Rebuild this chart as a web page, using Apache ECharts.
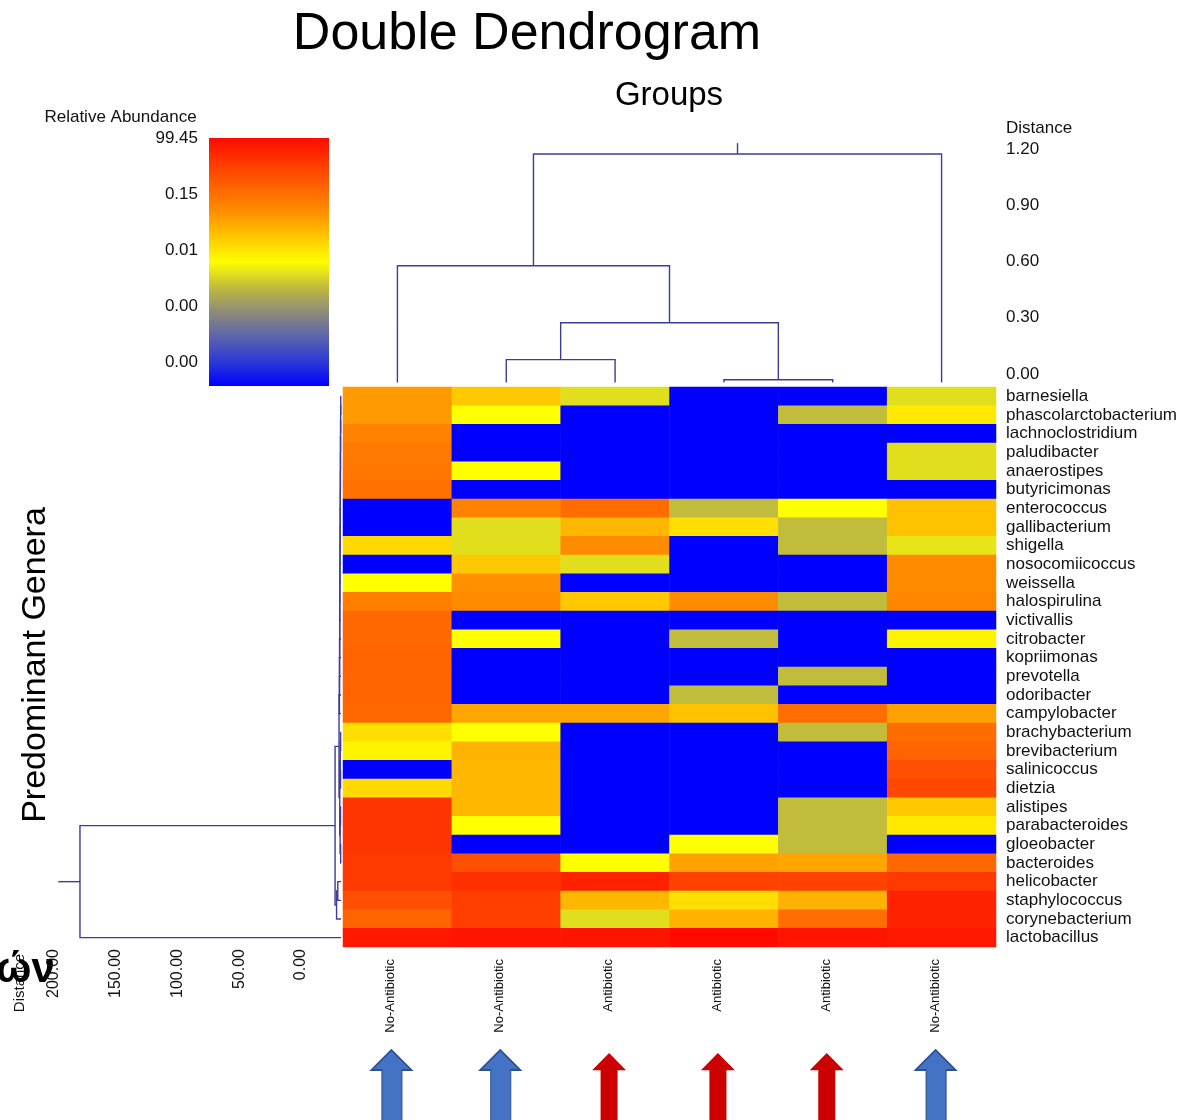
<!DOCTYPE html>
<html>
<head>
<meta charset="utf-8">
<title>Double Dendrogram</title>
<script src="https://cdn.jsdelivr.net/npm/echarts@6/dist/echarts.min.js"></script>
<style>
  html, body { margin: 0; padding: 0; background: #ffffff; }
  #chart { width: 1181px; height: 1120px; }
</style>
</head>
<body>
<div id="chart"></div>
<script>
// Genera (rows, top to bottom in dendrogram order)
const genera = [
  'barnesiella', 'phascolarctobacterium', 'lachnoclostridium', 'paludibacter',
  'anaerostipes', 'butyricimonas', 'enterococcus', 'gallibacterium', 'shigella',
  'nosocomiicoccus', 'weissella', 'halospirulina', 'victivallis', 'citrobacter',
  'kopriimonas', 'prevotella', 'odoribacter', 'campylobacter', 'brachybacterium',
  'brevibacterium', 'salinicoccus', 'dietzia', 'alistipes', 'parabacteroides',
  'gloeobacter', 'bacteroides', 'helicobacter', 'staphylococcus',
  'corynebacterium', 'lactobacillus'
];

// Samples (columns, left to right in dendrogram order)
const sampleGroups = [
  'No-Antibiotic', 'No-Antibiotic', 'Antibiotic', 'Antibiotic', 'Antibiotic', 'No-Antibiotic'
];

// Relative abundance as a position on the colour scale (0 = bottom, 1 = top of the legend)
const abundanceLevel = [
  [0.68, 0.60, 0.45, 0.00, 0.00, 0.45],
  [0.68, 0.50, 0.00, 0.00, 0.40, 0.54],
  [0.73, 0.00, 0.00, 0.00, 0.00, 0.00],
  [0.75, 0.00, 0.00, 0.00, 0.00, 0.45],
  [0.76, 0.50, 0.00, 0.00, 0.00, 0.45],
  [0.77, 0.00, 0.00, 0.00, 0.00, 0.00],
  [0.00, 0.73, 0.78, 0.40, 0.50, 0.61],
  [0.00, 0.45, 0.63, 0.56, 0.40, 0.61],
  [0.57, 0.45, 0.71, 0.00, 0.40, 0.46],
  [0.00, 0.60, 0.45, 0.00, 0.00, 0.71],
  [0.50, 0.70, 0.00, 0.00, 0.00, 0.71],
  [0.74, 0.71, 0.60, 0.71, 0.40, 0.72],
  [0.79, 0.00, 0.00, 0.00, 0.00, 0.00],
  [0.79, 0.50, 0.00, 0.40, 0.00, 0.52],
  [0.80, 0.00, 0.00, 0.00, 0.00, 0.00],
  [0.80, 0.00, 0.00, 0.00, 0.40, 0.00],
  [0.80, 0.00, 0.00, 0.40, 0.00, 0.00],
  [0.79, 0.66, 0.66, 0.61, 0.78, 0.67],
  [0.56, 0.50, 0.00, 0.00, 0.40, 0.78],
  [0.52, 0.64, 0.00, 0.00, 0.00, 0.80],
  [0.00, 0.63, 0.00, 0.00, 0.00, 0.85],
  [0.57, 0.63, 0.00, 0.00, 0.00, 0.87],
  [0.91, 0.63, 0.00, 0.00, 0.40, 0.60],
  [0.91, 0.50, 0.00, 0.00, 0.40, 0.54],
  [0.91, 0.00, 0.00, 0.50, 0.40, 0.00],
  [0.90, 0.85, 0.50, 0.67, 0.66, 0.79],
  [0.90, 0.92, 0.95, 0.88, 0.88, 0.90],
  [0.85, 0.89, 0.63, 0.56, 0.64, 0.95],
  [0.80, 0.89, 0.45, 0.64, 0.78, 0.95],
  [0.97, 0.98, 0.98, 1.00, 0.98, 0.97]
];

// Legend tick labels (top to bottom) and the legend's extent in tick steps
const levelTickLabels = ['99.45', '0.15', '0.01', '0.00', '0.00'];
const legendSpan = 4.43;

// Colour ramp, evenly spaced from level 0 to level 1
const levelPalette = [
  '#0000ff', '#2d3ad6', '#5c64ac', '#8e8c78', '#c2bc3c',
  '#ffff00', '#ffc800', '#ff9000', '#ff6400', '#ff3a00', '#ff0a00'
];

// Sample clustering: [left, right, distance]; leaves 0..5, merges numbered from 6
const groupLinkage = [
  [3, 4, 0.015],
  [1, 2, 0.122],
  [7, 6, 0.319],
  [0, 8, 0.623],
  [9, 5, 1.219]
];
const groupRootTop = 1.277;

// Genus clustering: [left, right, distance]; leaves 0..29, merges numbered from 30
const genusLinkage = [
  [0, 1, 0.20], [30, 2, 0.28], [31, 3, 0.35], [32, 4, 0.42], [33, 5, 0.48],
  [34, 6, 0.55], [35, 7, 0.62], [36, 8, 0.68], [37, 9, 0.75], [38, 10, 0.82],
  [39, 11, 0.88], [40, 12, 0.95], [41, 13, 1.02], [42, 14, 1.08], [43, 15, 1.15],
  [44, 16, 1.22], [45, 17, 1.28],
  [18, 19, 0.30], [20, 21, 0.35], [22, 23, 0.40], [24, 25, 0.30],
  [47, 48, 0.60], [49, 50, 0.70], [51, 52, 1.00],
  [46, 53, 1.60],
  [26, 27, 2.60], [55, 28, 3.60],
  [54, 56, 4.80],
  [57, 29, 211.4]
];
const genusRootTop = 229;

const FONT = '"Liberation Sans", Arial, Helvetica, sans-serif';
const TEXT = '#111111';
const TREE = '#3c3c9a';

// Turn a linkage table into bracket polylines as [leafPosition, distance] points
function dendrogram(linkage, leafCount, rootTop) {
  const pos = [], h = [];
  for (let i = 0; i < leafCount; i++) { pos[i] = i; h[i] = 0; }
  const paths = [];
  linkage.forEach(([a, b, d], k) => {
    const id = leafCount + k;
    pos[id] = (pos[a] + pos[b]) / 2;
    h[id] = d;
    paths.push([[pos[a], h[a]], [pos[a], d], [pos[b], d], [pos[b], h[b]]]);
  });
  const root = leafCount + linkage.length - 1;
  paths.push([[pos[root], h[root]], [pos[root], rootTop]]);
  return paths;
}

const groupPaths = dendrogram(groupLinkage, sampleGroups.length, groupRootTop);
const genusPaths = dendrogram(genusLinkage, genera.length, genusRootTop)
  .map(p => p.map(([leaf, dist]) => [dist, leaf]));

const heatData = [];
abundanceLevel.forEach((row, r) => row.forEach((v, c) => heatData.push([c, r, v])));

const legendGradient = new echarts.graphic.LinearGradient(0, 0, 0, 1,
  levelPalette.map((col, k) => ({ offset: 1 - k / (levelPalette.length - 1), color: col })).reverse());

const ARROW_BLUE = 'path://M20,0 L40,20 L30.5,20 L30.5,80 L10.5,80 L10.5,20 L0,20 Z';
const ARROW_RED = 'path://M17,0 L34,18 L25.5,18 L25.5,80 L8.5,80 L8.5,18 L0,18 Z';
const arrowData = sampleGroups.map((g, i) => {
  const treated = g === 'Antibiotic';
  return {
    value: [i, 0.5],
    symbol: treated ? ARROW_RED : ARROW_BLUE,
    symbolSize: treated ? [34, 77] : [40, 80],
    symbolOffset: [-6, treated ? 1.5 : 0],
    itemStyle: treated
      ? { color: '#cc0000', borderWidth: 0, opacity: 1 }
      : { color: '#4472c4', borderColor: '#2f528f', borderWidth: 1.5, opacity: 1 }
  };
});

const chart = echarts.init(document.getElementById('chart'), null, { renderer: 'canvas' });

const hidden = { show: false };
const noLine = { axisLine: hidden, axisTick: hidden, splitLine: hidden };

chart.setOption({
  animation: false,
  backgroundColor: '#ffffff',
  textStyle: { fontFamily: FONT, color: TEXT },
  grid: [
    { left: 343, top: 387, width: 653, height: 560, outerBoundsMode: 'none' },   // heatmap
    { left: 343, top: 157.5, width: 653, height: 225, outerBoundsMode: 'none' }, // sample tree
    { left: 57, top: 387, width: 284, height: 560, outerBoundsMode: 'none' },    // genus tree
    { left: 209, top: 138, width: 120, height: 248, outerBoundsMode: 'none' },   // legend
    { left: 343, top: 1050, width: 653, height: 80, outerBoundsMode: 'none' }    // group arrows
  ],
  xAxis: [
    {
      gridIndex: 0, type: 'category', data: sampleGroups.map((_, i) => i),
      ...noLine,
      axisLabel: {
        interval: 0, rotate: 90, verticalAlign: 'bottom', margin: 12, fontSize: 13, color: TEXT,
        fontFamily: FONT, formatter: (v, i) => sampleGroups[i]
      }
    },
    { gridIndex: 1, type: 'value', min: -0.5, max: 5.5, show: false },
    {
      gridIndex: 2, type: 'value', inverse: true, min: 0, max: 230, interval: 50,
      ...noLine,
      axisLabel: {
        rotate: 90, verticalAlign: 'bottom', padding: [0, 0, 32, 0], margin: 2,
        fontSize: 16, color: TEXT, fontFamily: FONT, showMaxLabel: false,
        formatter: v => v.toFixed(2)
      }
    },
    { gridIndex: 3, type: 'category', data: ['scale'], show: false },
    { gridIndex: 4, type: 'value', min: -0.5, max: 5.5, show: false }
  ],
  yAxis: [
    {
      gridIndex: 0, type: 'category', data: genera, inverse: true, position: 'right',
      ...noLine,
      axisLabel: { interval: 0, margin: 10, padding: [0, 0, 4, 0], fontSize: 17, color: TEXT, fontFamily: FONT }
    },
    {
      gridIndex: 1, type: 'value', min: 0, max: 1.2, interval: 0.3, position: 'right',
      ...noLine,
      axisLabel: {
        margin: 10, verticalAlign: 'bottom', fontSize: 17, color: TEXT, fontFamily: FONT,
        formatter: v => v.toFixed(2)
      }
    },
    { gridIndex: 2, type: 'value', min: -0.5, max: 29.5, inverse: true, show: false },
    {
      gridIndex: 3, type: 'value', min: 0, max: legendSpan, interval: 1, inverse: true,
      ...noLine,
      axisLabel: {
        margin: 11, fontSize: 17, color: TEXT, fontFamily: FONT, showMaxLabel: false,
        formatter: v => levelTickLabels[Math.round(v)] ?? ''
      }
    },
    { gridIndex: 4, type: 'value', min: 0, max: 1, show: false }
  ],
  visualMap: {
    type: 'continuous', min: 0, max: 1, show: false, seriesIndex: 0, dimension: 2,
    inRange: { color: levelPalette }
  },
  series: [
    {
      type: 'heatmap', xAxisIndex: 0, yAxisIndex: 0, data: heatData,
      itemStyle: { borderWidth: 0 }, emphasis: { disabled: true }, silent: true
    },
    {
      type: 'lines', coordinateSystem: 'cartesian2d', xAxisIndex: 1, yAxisIndex: 1,
      polyline: true, clip: false, silent: true,
      lineStyle: { color: TREE, width: 1.4, opacity: 1 },
      data: groupPaths.map(coords => ({ coords }))
    },
    {
      type: 'lines', coordinateSystem: 'cartesian2d', xAxisIndex: 2, yAxisIndex: 2,
      polyline: true, clip: false, silent: true,
      lineStyle: { color: TREE, width: 1.4, opacity: 1 },
      data: genusPaths.map(coords => ({ coords }))
    },
    {
      type: 'bar', xAxisIndex: 3, yAxisIndex: 3, data: [legendSpan], barWidth: '100%',
      itemStyle: { color: legendGradient }, silent: true, emphasis: { disabled: true }
    },
    {
      type: 'scatter', xAxisIndex: 4, yAxisIndex: 4, data: arrowData, silent: true,
      itemStyle: { opacity: 1 }, emphasis: { disabled: true }
    }
  ],
  graphic: [
    { type: 'text', x: 527, y: 35, silent: true,
      style: { text: 'Double Dendrogram', font: '52px ' + FONT, fill: '#000', align: 'center', verticalAlign: 'middle' } },
    { type: 'text', x: 669, y: 96, silent: true,
      style: { text: 'Groups', font: '33px ' + FONT, fill: '#000', align: 'center', verticalAlign: 'middle' } },
    { type: 'text', x: 120.5, y: 117, silent: true,
      style: { text: 'Relative Abundance', font: '17px ' + FONT, fill: TEXT, align: 'center', verticalAlign: 'middle' } },
    { type: 'text', x: 1006, y: 128, silent: true,
      style: { text: 'Distance', font: '17px ' + FONT, fill: TEXT, align: 'left', verticalAlign: 'middle' } },
    { type: 'text', x: 36, y: 665, rotation: Math.PI / 2, silent: true,
      style: { text: 'Predominant Genera', font: '34px ' + FONT, fill: '#000', align: 'center', verticalAlign: 'middle' } },
    { type: 'text', x: 20, y: 983, rotation: Math.PI / 2, silent: true,
      style: { text: 'Distance', font: '15px ' + FONT, fill: TEXT, align: 'center', verticalAlign: 'middle' } },
    { type: 'text', x: -4, y: 970, silent: true,
      style: { text: 'ών', font: 'bold 42px ' + FONT, fill: '#000', align: 'left', verticalAlign: 'middle' } }
  ]
});
</script>
</body>
</html>
